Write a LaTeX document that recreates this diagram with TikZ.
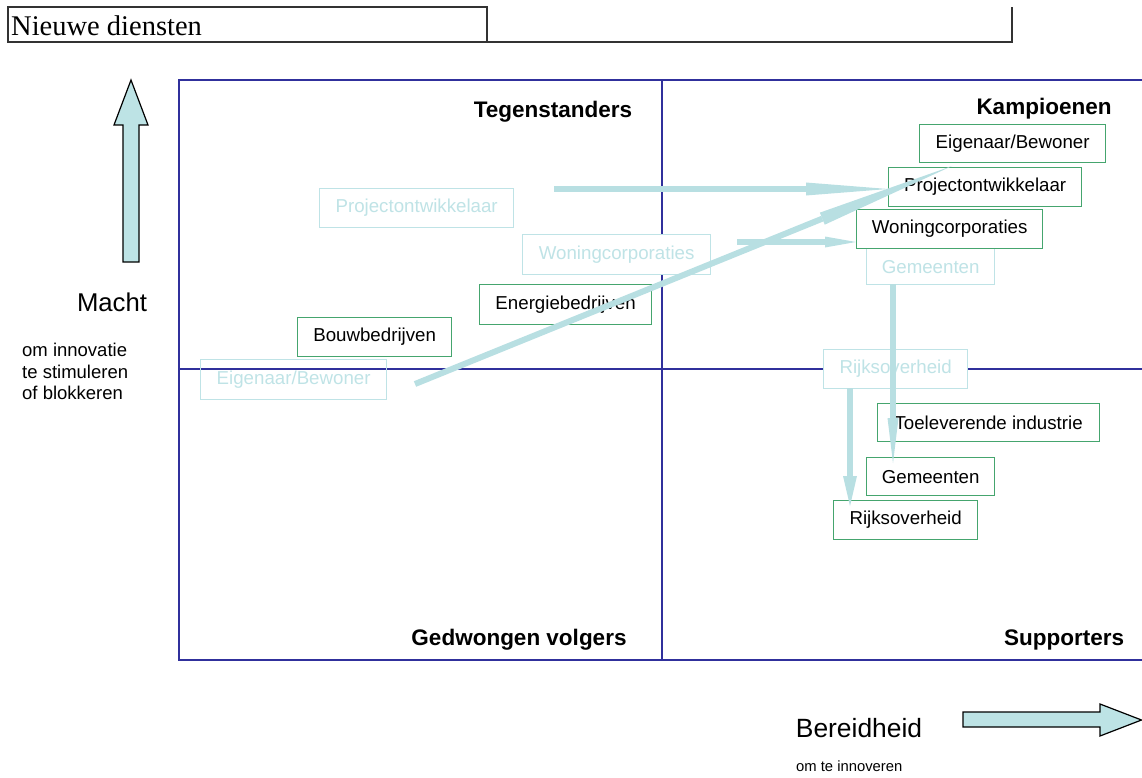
\documentclass[tikz,border=0pt]{standalone}
\usepackage{fontspec}
\setmainfont{Liberation Sans}
\newfontfamily\timesf{Liberation Serif}
\usetikzlibrary{arrows.meta}
\definecolor{qblue}{HTML}{30309C}
\definecolor{pale}{HTML}{BFE3E6}
\definecolor{grn}{HTML}{45A56E}
\definecolor{arr}{HTML}{B8DFE2}
\definecolor{bigfill}{HTML}{BDE3E5}
\begin{document}
\begin{tikzpicture}[x=1pt,y=-1pt,
  boxbase/.style={line width=1.3pt, inner sep=0pt, anchor=north west, font=\fontsize{18.7}{22}\selectfont},
  pbox/.style={boxbase, draw=pale, text=pale, fill=white},
  gbox/.style={boxbase, draw=grn, text=black, fill=white},
  qlabel/.style={font=\fontsize{22.5}{26}\selectfont\bfseries, inner sep=0pt},
  quad/.style={draw=qblue, line width=2.2pt},
  conn/.style={draw=arr, line width=6pt},
  bigarrow/.style={draw=black, line width=1.2pt, fill=bigfill, line join=miter}
]
\useasboundingbox (0,0) rectangle (1142,778);

% header
\draw[line width=1.3pt, draw=black!80] (8,7) rectangle (487,42);
\draw[line width=1.3pt, draw=black!80] (487,42) -- (1012,42) -- (1012,7);
\node[anchor=base west, inner sep=0pt, font=\timesf\fontsize{28.5}{32}\selectfont] (title) at (11,36) {Nieuwe diensten};

% quadrant frame
\draw[quad] (1142,80) -- (179,80) -- (179,660) -- (1142,660);
\draw[quad] (662,80) -- (662,660);
\draw[quad] (179,369) -- (1142,369);

% quadrant labels
\node[qlabel] (tegen) at (553,112) {Tegenstanders};
\node[qlabel] (kamp) at (1044,109) {Kampioenen};
\node[qlabel] (gedw) at (519,640) {Gedwongen volgers};
\node[qlabel] (supp) at (1064,640) {Supporters};

% axes
\draw[bigarrow] (123,262) -- (123,125) -- (114,125) -- (131,80) -- (148,125) -- (139,125) -- (139,262) -- cycle;
\draw[bigarrow] (963,712) -- (1100,712) -- (1100,704) -- (1141.5,720) -- (1100,736) -- (1100,727) -- (963,727) -- cycle;
\node[inner sep=0pt, font=\fontsize{25.7}{30}\selectfont] (macht) at (112,302) {Macht};
\node[anchor=north west, inner sep=0pt, align=left, font=\fontsize{18.5}{21.5}\selectfont] (machtsub) at (22,343) {om innovatie\\te stimuleren\\of blokkeren};
\node[inner sep=0pt, font=\fontsize{26.4}{30}\selectfont] (bereid) at (859,728) {Bereidheid};
\node[anchor=west, inner sep=0pt, font=\fontsize{14.8}{18}\selectfont] (bereidsub) at (796,766) {om te innoveren};

% pale (old) positions
\node[pbox, minimum width=194pt, minimum height=39pt] (pproj) at (319,188) {Projectontwikkelaar};
\node[pbox, minimum width=188pt, minimum height=40pt] (pwon) at (522,234) {Woningcorporaties};
\node[pbox, fill=none, minimum width=186pt, minimum height=40pt] (peig) at (200,359) {Eigenaar/Bewoner};
\node[pbox, minimum width=128pt, minimum height=36pt] (pgem) at (866,248) {Gemeenten};
\node[pbox, minimum width=144pt, minimum height=39pt] (prijk) at (823,349) {Rijksoverheid};

% green (new) positions
\node[gbox, minimum width=186pt, minimum height=38pt] (geig) at (919,124) {Eigenaar/Bewoner};
\node[gbox, minimum width=193pt, minimum height=39pt] (gproj) at (888,167) {Projectontwikkelaar};
\node[gbox, minimum width=186pt, minimum height=39pt] (gwon) at (856,209) {Woningcorporaties};
\node[gbox, minimum width=172pt, minimum height=40pt] (gener) at (479,284) {Energiebedrijven};
\node[gbox, minimum width=154pt, minimum height=39pt] (gbouw) at (297,317) {Bouwbedrijven};
\node[gbox, minimum width=222pt, minimum height=38pt] (gtoe) at (877,403) {Toeleverende industrie};
\node[gbox, minimum width=128pt, minimum height=38pt] (ggem) at (866,457) {Gemeenten};
\node[gbox, minimum width=144pt, minimum height=39pt] (grijk) at (833,500) {Rijksoverheid};

% connectors
\coordinate (a1s) at (554,189);
\coordinate (a2s) at (737,242);
\coordinate (dgs) at (415,384);
\coordinate (dge) at (952,166);
\coordinate (v1s) at (893,284);
\coordinate (v1e) at (893,463);
\coordinate (v2s) at (850,388);
\coordinate (v2e) at (850,506);

\draw[conn, -{Triangle[length=82pt, width=13pt, line width=0pt]}] (a1s) -- (a1s -| gproj.west);
\draw[conn, -{Triangle[length=31pt, width=11pt, line width=0pt]}] (a2s) -- (a2s -| gwon.west);
\draw[conn, -{Triangle[length=140pt, width=13pt, line width=0pt]}] (dgs) -- (dge);
\draw[conn, -{Triangle[length=45pt, width=11pt, line width=0pt]}] (v1s) -- (v1e);
\draw[conn, -{Triangle[length=30pt, width=14pt, line width=0pt]}] (v2s) -- (v2e);
\end{tikzpicture}
\end{document}
